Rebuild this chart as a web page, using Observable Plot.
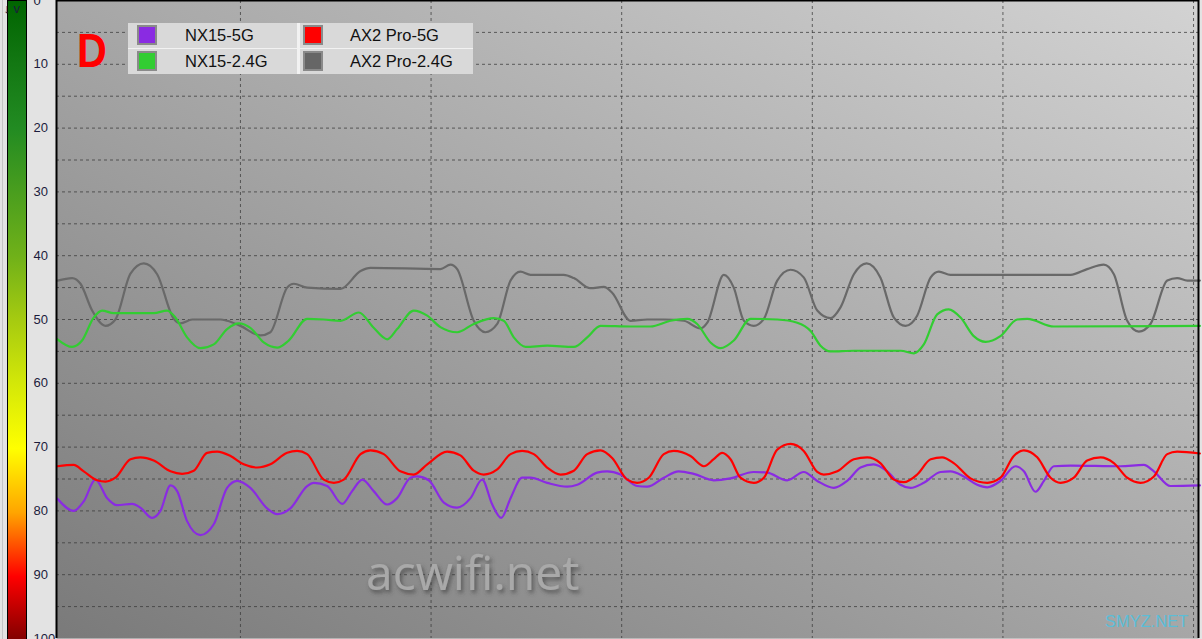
<!DOCTYPE html>
<html>
<head>
<meta charset="utf-8">
<script src="https://cdn.jsdelivr.net/npm/d3@7"></script>
<script src="https://cdn.jsdelivr.net/npm/@observablehq/plot@0.6"></script>
<style>
  html, body { margin: 0; padding: 0; background: #e3e3e3; overflow: hidden; }
  #wrap { position: relative; width: 1202px; height: 639px; }
  #wrap > svg { position: absolute; left: 0; top: 0; }
  .legend { position: absolute; left: 128px; top: 23px; width: 345px; height: 51px; background: #f2f2f2; }
  .cell { position: absolute; background: #d9d9d9; font-family: "Liberation Sans", Arial, sans-serif; font-size: 16.5px; color: #111; }
  .sw { position: absolute; width: 16px; height: 16px; border: 2px solid #8a8a8a; }
  .lbl { position: absolute; top: 3px; white-space: nowrap; }
</style>
</head>
<body>
<div id="wrap"></div>
<script>
// ---- Data (time in seconds, value = signal level on the 0–100 scale) ----
const seriesNames = ["NX15-5G", "NX15-2.4G", "AX2 Pro-5G", "AX2 Pro-2.4G"];
const seriesColors = ["#8a2be2", "#32cd32", "#ff0000", "#696969"];
const yTicks = [0, 10, 20, 30, 40, 50, 60, 70, 80, 90, 100];
const yGrid = [5, 10, 15, 20, 25, 30, 35, 40, 45, 50, 55, 60, 65, 70, 75, 80, 85, 90, 95];
const xGrid = [10, 20, 30, 40, 50, 60];
const xDomain = [0.35, 60.26];

const nx15_5G = [
  [0.4,78.1],[1.25,80.0],[1.78,78.5],[2.39,75.1],[3.01,78.0],[3.53,79.1],[4.32,78.9],[4.75,79.5],
  [5.37,81.1],[5.80,80.0],[6.33,76.0],[6.68,76.9],[7.20,81.6],[7.90,83.8],[8.60,82.1],[9.30,76.4],
  [9.83,75.3],[10.52,76.4],[11.40,79.6],[11.93,80.5],[12.62,79.6],[13.50,76.1],[13.85,75.6],[14.55,76.1],
  [15.34,78.9],[15.86,76.9],[16.39,75.1],[16.99,76.9],[17.70,79.0],[18.22,78.0],[18.92,74.8],[19.27,74.6],
  [19.88,75.2],[20.67,78.7],[21.37,79.5],[22.07,78.0],[22.68,75.1],[23.21,79.0],[23.68,81.1],[24.17,78.0],
  [24.78,74.8],[25.22,74.8],[26.09,75.6],[27.14,76.2],[27.67,75.9],[28.71,74.0],[29.24,73.8],[29.94,74.3],
  [30.81,76.1],[31.34,76.2],[32.21,74.8],[32.99,73.8],[33.78,74.2],[34.83,75.2],[35.71,74.9],[36.93,73.9],
  [37.63,74.0],[38.68,75.2],[39.55,73.9],[40.26,75.3],[41.13,76.4],[41.83,75.3],[42.53,73.2],[43.22,72.7],
  [43.93,73.8],[44.63,75.9],[45.15,76.4],[45.85,75.6],[46.73,73.9],[47.25,73.8],[47.95,74.6],[48.65,75.9],
  [49.18,76.3],[49.87,75.3],[50.66,73.0],[51.10,73.8],[51.71,77.0],[52.15,75.3],[52.67,73.0],[53.55,72.9],
  [56.17,73.0],[57.39,72.8],[57.92,73.8],[58.79,76.1],[60.33,76.0]
];

const nx15_24G = [
  [0.4,53.1],[1.17,54.3],[1.69,53.3],[2.30,49.7],[2.74,48.6],[3.35,49.0],[5.45,49.0],[6.15,48.6],
  [6.59,49.7],[7.20,52.8],[7.90,54.5],[8.60,53.9],[9.30,51.5],[9.91,50.6],[10.52,51.3],[11.22,53.6],
  [11.93,54.4],[12.53,53.3],[13.50,49.9],[14.37,50.0],[15.25,50.2],[16.21,48.9],[16.99,51.3],[17.70,53.1],
  [18.22,51.5],[19.09,48.6],[19.80,49.4],[20.49,51.2],[21.37,52.0],[22.24,50.7],[23.29,49.8],[23.81,50.2],
  [24.34,52.8],[24.96,54.3],[26.09,54.1],[27.49,54.3],[28.19,52.8],[28.89,51.0],[30.46,51.1],[31.51,51.1],
  [32.56,50.2],[33.44,49.9],[33.96,50.7],[34.66,53.6],[35.18,54.5],[35.88,53.3],[36.76,49.9],[38.16,50.0],
  [39.21,50.5],[39.91,51.8],[40.43,54.1],[40.95,55.0],[42.18,54.9],[44.63,54.9],[45.33,55.3],[45.85,53.9],
  [46.55,49.2],[47.16,48.4],[47.78,49.7],[48.47,52.6],[49.09,53.5],[49.87,52.6],[50.75,50.0],[51.28,49.9],
  [52.67,51.1],[60.33,51.0]
];

const ax2pro_5G = [
  [0.4,73.0],[1.25,72.8],[1.78,73.8],[2.48,75.2],[2.92,75.4],[3.44,74.8],[4.23,71.9],[4.75,71.6],
  [5.45,72.1],[6.33,73.8],[6.94,74.2],[7.55,73.7],[8.25,70.9],[8.78,70.7],[9.48,71.4],[10.17,72.7],
  [10.88,73.2],[11.57,72.7],[12.45,70.9],[12.97,70.6],[13.50,71.1],[14.37,75.1],[14.90,75.6],[15.42,75.1],
  [16.30,71.1],[16.82,70.5],[17.52,71.1],[18.39,73.8],[19.09,74.3],[19.80,72.7],[20.84,70.7],[21.54,71.3],
  [22.24,73.7],[22.76,74.3],[23.47,73.5],[24.17,71.1],[24.78,70.6],[25.39,71.1],[26.09,73.2],[26.79,74.3],
  [27.49,73.7],[28.19,71.1],[28.89,70.5],[29.50,71.7],[30.29,75.1],[30.81,75.6],[31.42,74.8],[32.21,71.1],
  [32.73,70.6],[33.61,71.4],[34.31,73.0],[34.83,71.9],[35.27,70.9],[35.71,71.9],[36.23,74.8],[36.93,75.6],
  [37.46,74.8],[38.16,70.4],[38.86,69.5],[39.55,70.6],[40.26,73.9],[40.60,74.3],[41.31,73.8],[42.18,71.9],
  [42.88,71.6],[43.57,72.5],[44.28,75.1],[44.80,75.5],[45.50,74.3],[46.21,71.9],[46.81,71.6],[47.42,72.5],
  [48.30,74.9],[49.18,75.6],[49.87,74.8],[50.57,71.4],[51.10,70.5],[51.80,71.6],[52.50,74.8],[53.02,75.6],
  [53.72,74.8],[54.42,72.1],[55.12,71.6],[55.82,72.5],[56.52,74.8],[57.22,75.6],[57.92,74.6],[58.62,71.1],
  [59.14,70.7],[60.33,71.0]
];

const ax2pro_24G = [
  [0.4,43.9],[1.17,43.5],[1.61,44.4],[2.22,48.6],[2.92,51.0],[3.44,50.0],[4.23,42.8],[4.93,41.2],
  [5.63,42.9],[6.50,49.9],[6.85,50.6],[7.47,50.0],[8.95,50.0],[9.30,50.2],[10.0,51.0],[11.05,52.5],
  [11.57,52.0],[12.45,45.0],[12.80,44.4],[13.50,45.0],[15.25,45.2],[16.30,42.4],[16.82,41.9],[20.49,42.1],
  [21.02,41.4],[21.37,42.1],[22.24,50.2],[22.85,52.0],[23.47,50.7],[24.17,43.9],[24.69,42.5],[25.22,43.0],
  [26.96,43.0],[27.49,43.5],[28.36,45.1],[29.06,44.9],[29.50,45.8],[30.46,50.2],[31.34,50.0],[32.21,50.0],
  [33.26,50.2],[34.13,51.4],[34.49,50.5],[35.36,43.0],[35.88,45.0],[36.41,50.2],[36.93,51.0],[37.46,49.9],
  [38.16,43.9],[38.86,42.2],[39.55,43.4],[40.26,48.6],[40.95,49.8],[41.48,48.1],[42.18,42.9],[42.85,41.2],
  [43.57,43.4],[44.28,49.7],[44.89,51.0],[45.50,49.4],[46.21,43.4],[46.64,42.5],[47.25,43.0],[53.55,43.0],
  [54.42,42.1],[55.29,41.4],[55.82,42.9],[56.52,50.2],[57.13,51.9],[57.74,50.7],[58.62,43.9],[59.14,43.5],
  [59.67,43.9],[60.33,43.9]
];

const seriesData = [nx15_5G, nx15_24G, ax2pro_5G, ax2pro_24G];
const rows = seriesData.flatMap((arr, i) => arr.map(([t, v]) => ({t, v, s: seriesNames[i]})));

// ---- Plot ----
const lineOrder = [3, 1, 0, 2];
const plot = Plot.plot({
  width: 1202,
  height: 639,
  marginLeft: 56,
  marginRight: 4,
  marginTop: 0,
  marginBottom: 1,
  style: {background: "transparent", fontFamily: "'Liberation Sans', Arial, sans-serif", fontSize: "13px", overflow: "visible"},
  x: {domain: xDomain, axis: null},
  y: {domain: [0, 100], reverse: true, axis: null},
  marks: [
    Plot.frame({fill: "#aaaaaa"}),
    Plot.ruleY(yGrid, {stroke: "#3a3a3a", strokeOpacity: 0.75, strokeDasharray: "3,3"}),
    Plot.ruleX(xGrid, {stroke: "#3a3a3a", strokeOpacity: 0.75, strokeDasharray: "3,3"}),
    ...lineOrder.map(i => Plot.line(rows.filter(d => d.s === seriesNames[i]), {
      x: "t", y: "v", stroke: seriesColors[i], strokeWidth: 2.2, curve: "monotone-x"
    })),
    Plot.axisY(yTicks, {anchor: "left", tickSize: 0, tickPadding: 23, textAnchor: "start", fill: "#1c1c3c", fontSize: 13}),
    // border on left, top and right only
    Plot.ruleX(xDomain, {stroke: "#000", strokeWidth: 2}),
    Plot.ruleY([0], {stroke: "#000", strokeWidth: 2})
  ]
});

// gradient background for the plotting area
const defs = d3.select(plot).insert("defs", ":first-child");
const g = defs.append("linearGradient").attr("id", "bgGrad")
  .attr("x1", 0).attr("y1", 1).attr("x2", 1).attr("y2", 0);
g.append("stop").attr("offset", 0).attr("stop-color", "#7a7a7a");
g.append("stop").attr("offset", 1).attr("stop-color", "#d3d3d3");
const frames = plot.querySelectorAll('[aria-label="frame"]');
if (frames.length) {
  const f = frames[0];
  const r = f.tagName.toLowerCase() === "rect" ? f : f.querySelector("rect");
  if (r) r.setAttribute("fill", "url(#bgGrad)");
}

const wrap = document.getElementById("wrap");

// colour bar on the left (drawn under the plot)
const cbar = d3.create("svg").attr("width", 1202).attr("height", 639);
const cdefs = cbar.append("defs");
const cg = cdefs.append("linearGradient").attr("id", "cbGrad").attr("x1", 0).attr("y1", 0).attr("x2", 0).attr("y2", 1);
const cbStops = [[0, "#006400"], [0.1, "#137813"], [0.2, "#228b22"], [0.3, "#4a9e1e"], [0.4, "#70b119"],
  [0.5, "#a6cb10"], [0.6, "#d4e808"], [0.7, "#ffff00"], [0.8, "#ffa500"], [0.9, "#ff0000"], [1, "#800000"]];
cbStops.forEach(([o, c]) => cg.append("stop").attr("offset", o).attr("stop-color", c));
cbar.append("line").attr("x1", 2.5).attr("x2", 2.5).attr("y1", 0).attr("y2", 639).attr("stroke", "#c4c4c4");
cbar.append("rect").attr("x", 7.5).attr("y", 0.5).attr("width", 19).attr("height", 640)
  .attr("fill", "url(#cbGrad)").attr("stroke", "#000");
wrap.appendChild(cbar.node());
wrap.appendChild(plot);

// overlay texts
const ov = d3.create("svg").attr("width", 1202).attr("height", 639).style("pointer-events", "none");
const odefs = ov.append("defs");
const flt = odefs.append("filter").attr("id", "shadow").attr("x", "-10%").attr("y", "-20%").attr("width", "130%").attr("height", "150%");
flt.append("feDropShadow").attr("dx", 2).attr("dy", 3).attr("stdDeviation", 2).attr("flood-color", "#3a3a3a").attr("flood-opacity", 0.7);
ov.append("text").attr("x", 77).attr("y", 67).attr("transform", "translate(77,0) scale(0.86,1) translate(-77,0)")
  .attr("font-family", "'Liberation Sans', Arial, sans-serif").attr("font-weight", "bold").attr("font-size", 48)
  .attr("fill", "#ff0000").text("D");
ov.append("text").attr("x", 366).attr("y", 590)
  .attr("font-family", "'Open Sans', 'Noto Sans', sans-serif").attr("font-size", 48)
  .attr("fill", "#a9a9a9").attr("filter", "url(#shadow)").text("acwifi.net");
ov.append("text").attr("x", 1105).attr("y", 627)
  .attr("font-family", "'Liberation Sans', Arial, sans-serif").attr("font-size", 16.5)
  .attr("fill", "#5cbdd6").text("SMYZ.NET");
wrap.appendChild(ov.node());

// legend
const legend = document.createElement("div");
legend.className = "legend";
const cells = [
  {name: seriesNames[0], color: seriesColors[0], x: 0, y: 0, w: 169, sx: 9, lx: 57},
  {name: seriesNames[2], color: seriesColors[2], x: 172, y: 0, w: 173, sx: 3, lx: 50},
  {name: seriesNames[1], color: seriesColors[1], x: 0, y: 26, w: 169, sx: 9, lx: 57},
  {name: seriesNames[3], color: "#666666", x: 172, y: 26, w: 173, sx: 3, lx: 50}
];
cells.forEach(c => {
  const d = document.createElement("div");
  d.className = "cell";
  d.style.left = c.x + "px"; d.style.top = c.y + "px";
  d.style.width = c.w + "px"; d.style.height = "25px";
  const sw = document.createElement("div");
  sw.className = "sw";
  sw.style.left = c.sx + "px"; sw.style.top = "2px"; sw.style.background = c.color;
  const lb = document.createElement("div");
  lb.className = "lbl";
  lb.style.left = c.lx + "px";
  lb.textContent = c.name;
  d.appendChild(sw); d.appendChild(lb);
  legend.appendChild(d);
});
wrap.appendChild(legend);
</script>
</body>
</html>
